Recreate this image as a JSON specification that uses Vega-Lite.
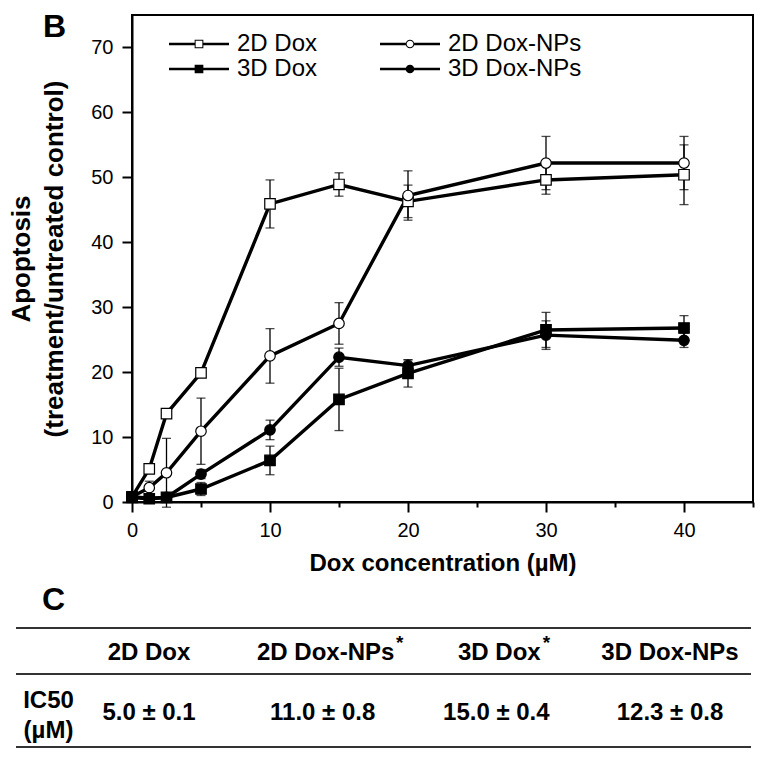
{
  "$schema": "https://vega.github.io/schema/vega-lite/v6.json",
  "background": "white",
  "padding": {"left": 7, "top": 10, "right": 5, "bottom": 5},
  "spacing": 8,
  "config": {
    "font": "Liberation Sans",
    "view": {"stroke": null},
    "axis": {"labelFont": "Liberation Sans", "titleFont": "Liberation Sans", "labelColor": "black", "titleColor": "black", "domainColor": "black", "tickColor": "black", "grid": false},
    "legend": {"labelFont": "Liberation Sans"},
    "title": {"font": "Liberation Sans", "color": "black"}
  },
  "vconcat": [
    {
      "width": 621,
      "height": 487,
      "view": {"stroke": "black", "strokeWidth": 2},
      "title": {"text": "B", "anchor": "start", "frame": "group", "fontSize": 32, "fontWeight": "bold", "dx": -89, "dy": 29, "offset": 0},
      "data": {"values": [
        {"series": "2D Dox", "conc": 0, "mean": 0.8, "err": 0.3},
        {"series": "2D Dox", "conc": 1.25, "mean": 5.1, "err": 0.6},
        {"series": "2D Dox", "conc": 2.5, "mean": 13.6, "err": 0.5},
        {"series": "2D Dox", "conc": 5, "mean": 19.9, "err": 0.4},
        {"series": "2D Dox", "conc": 10, "mean": 45.9, "err": 3.7},
        {"series": "2D Dox", "conc": 15, "mean": 48.9, "err": 1.8},
        {"series": "2D Dox", "conc": 20, "mean": 46.3, "err": 2.5},
        {"series": "2D Dox", "conc": 30, "mean": 49.6, "err": 2.2},
        {"series": "2D Dox", "conc": 40, "mean": 50.4, "err": 4.6},
        {"series": "2D Dox-NPs", "conc": 0, "mean": 0.8, "err": 0.3},
        {"series": "2D Dox-NPs", "conc": 1.25, "mean": 2.2, "err": 1.0},
        {"series": "2D Dox-NPs", "conc": 2.5, "mean": 4.5, "err": 5.3},
        {"series": "2D Dox-NPs", "conc": 5, "mean": 10.9, "err": 5.1},
        {"series": "2D Dox-NPs", "conc": 10, "mean": 22.5, "err": 4.2},
        {"series": "2D Dox-NPs", "conc": 15, "mean": 27.5, "err": 3.2},
        {"series": "2D Dox-NPs", "conc": 20, "mean": 47.2, "err": 3.8},
        {"series": "2D Dox-NPs", "conc": 30, "mean": 52.2, "err": 4.1},
        {"series": "2D Dox-NPs", "conc": 40, "mean": 52.2, "err": 4.1},
        {"series": "3D Dox", "conc": 0, "mean": 0.7, "err": 0.3},
        {"series": "3D Dox", "conc": 1.25, "mean": 0.5, "err": 0.3},
        {"series": "3D Dox", "conc": 2.5, "mean": 0.7, "err": 0.4},
        {"series": "3D Dox", "conc": 5, "mean": 2.0, "err": 1.0},
        {"series": "3D Dox", "conc": 10, "mean": 6.4, "err": 2.2},
        {"series": "3D Dox", "conc": 15, "mean": 15.8, "err": 4.8},
        {"series": "3D Dox", "conc": 20, "mean": 19.8, "err": 2.1},
        {"series": "3D Dox", "conc": 30, "mean": 26.5, "err": 2.7},
        {"series": "3D Dox", "conc": 40, "mean": 26.8, "err": 1.9},
        {"series": "3D Dox-NPs", "conc": 0, "mean": 0.8, "err": 0.3},
        {"series": "3D Dox-NPs", "conc": 1.25, "mean": 0.6, "err": 0.3},
        {"series": "3D Dox-NPs", "conc": 2.5, "mean": 0.7, "err": 0.4},
        {"series": "3D Dox-NPs", "conc": 5, "mean": 4.3, "err": 0.7},
        {"series": "3D Dox-NPs", "conc": 10, "mean": 11.1, "err": 1.5},
        {"series": "3D Dox-NPs", "conc": 15, "mean": 22.3, "err": 1.4},
        {"series": "3D Dox-NPs", "conc": 20, "mean": 21.0, "err": 0.9},
        {"series": "3D Dox-NPs", "conc": 30, "mean": 25.7, "err": 2.2},
        {"series": "3D Dox-NPs", "conc": 40, "mean": 24.9, "err": 1.1}
      ]},
      "layer": [
        {
          "mark": {"type": "errorbar", "ticks": {"size": 9, "thickness": 1.3, "color": "black"}, "rule": {"strokeWidth": 1.3, "color": "black"}},
          "encoding": {
            "x": {"field": "conc", "type": "quantitative", "title": "Dox concentration (µM)"},
            "y": {"field": "mean", "type": "quantitative", "title": ["Apoptosis", "(treatment/untreated control)"]},
            "yError": {"field": "err"},
            "detail": {"field": "series"}
          }
        },
        {
          "mark": {"type": "line", "color": "black", "strokeWidth": 3.4},
          "encoding": {
            "x": {"field": "conc", "type": "quantitative", "scale": {"domain": [0, 45], "nice": false, "zero": false},
              "axis": {"values": [0, 5, 10, 15, 20, 25, 30, 35, 40, 45], "labelExpr": "datum.value % 10 === 0 ? datum.label : ''",
                "title": "Dox concentration (µM)", "titleFontSize": 24, "titleFontWeight": "bold", "titlePadding": 11,
                "tickSize": {"condition": {"test": "datum.value % 10 === 0", "value": 10}, "value": 5},
                "tickWidth": 2, "domainWidth": 2, "labelFontSize": 20, "labelPadding": 8, "labelFlush": false, "labelOverlap": false}},
            "y": {"field": "mean", "type": "quantitative", "scale": {"domain": [0, 75], "nice": false, "zero": false},
              "axis": {"values": [0, 5, 10, 15, 20, 25, 30, 35, 40, 45, 50, 55, 60, 65, 70], "labelExpr": "datum.value % 10 === 0 ? datum.label : ''",
                "title": ["Apoptosis", "(treatment/untreated control)"], "titleFontSize": 26, "titleFontWeight": "bold", "titleLineHeight": 33, "titlePadding": 23,
                "tickSize": {"condition": {"test": "datum.value % 10 === 0", "value": 10}, "value": 6},
                "tickWidth": 2, "domainWidth": 2, "labelFontSize": 20, "labelPadding": 9, "labelOverlap": false}},
            "detail": {"field": "series"}
          }
        },
        {
          "mark": {"type": "point", "filled": true, "size": 110, "stroke": "black", "strokeWidth": 1.2, "opacity": 1},
          "encoding": {
            "x": {"field": "conc", "type": "quantitative"},
            "y": {"field": "mean", "type": "quantitative"},
            "shape": {"field": "series", "type": "nominal", "scale": {"domain": ["2D Dox", "2D Dox-NPs", "3D Dox", "3D Dox-NPs"], "range": ["square", "circle", "square", "circle"]}, "legend": null},
            "fill": {"field": "series", "type": "nominal", "scale": {"domain": ["2D Dox", "2D Dox-NPs", "3D Dox", "3D Dox-NPs"], "range": ["white", "white", "black", "black"]}, "legend": null}
          }
        },
        {
          "transform": [{"filter": "false"}],
          "mark": {"type": "point", "filled": true, "color": "black", "opacity": 1},
          "encoding": {
            "x": {"field": "conc", "type": "quantitative"},
            "y": {"field": "mean", "type": "quantitative"},
            "shape": {"field": "series", "type": "nominal",
              "scale": {"domain": ["2D Dox", "3D Dox", "2D Dox-NPs", "3D Dox-NPs"],
                "range": [
                  "M-3,-0.13L-0.435,-0.13L-0.435,0.13L-3,0.13ZM0.435,-0.13L3,-0.13L3,0.13L0.435,0.13ZM-0.435,-0.435L0.435,-0.435L0.435,0.435L-0.435,0.435ZM-0.335,-0.335L-0.335,0.335L0.335,0.335L0.335,-0.335Z",
                  "M-3,-0.13L3,-0.13L3,0.13L-3,0.13ZM-0.435,-0.435L0.435,-0.435L0.435,0.435L-0.435,0.435Z",
                  "M-3,-0.13L-0.425,-0.13L-0.425,0.13L-3,0.13ZM0.425,-0.13L3,-0.13L3,0.13L0.425,0.13ZM-0.435,0A0.435,0.435,0,1,1,0.435,0A0.435,0.435,0,1,1,-0.435,0ZM-0.335,0A0.335,0.335,0,1,0,0.335,0A0.335,0.335,0,1,0,-0.335,0Z",
                  "M-3,-0.13L3,-0.13L3,0.13L-3,0.13ZM-0.435,0A0.435,0.435,0,1,1,0.435,0A0.435,0.435,0,1,1,-0.435,0Z"
                ]},
              "legend": {"orient": "none", "legendX": 55, "legendY": 17, "columns": 2, "title": null, "labelFontSize": 24, "labelColor": "black", "symbolSize": 400, "symbolStrokeWidth": 0, "symbolFillColor": "black", "symbolOpacity": 1, "labelOffset": 26, "columnPadding": 62, "rowPadding": 1}}
          }
        }
      ],
      "resolve": {"scale": {"shape": "independent", "fill": "independent"}, "legend": {"shape": "independent", "fill": "independent"}}
    },
    {
      "width": 621,
      "height": 119,
      "view": {"stroke": null},
      "title": {"text": "C", "anchor": "start", "frame": "group", "fontSize": 32, "fontWeight": "bold", "dx": -90, "offset": -2},
      "data": {"values": [
        {"row": "header", "col": "2D Dox", "label": "2D Dox", "star": false},
        {"row": "header", "col": "2D Dox-NPs", "label": "2D Dox-NPs", "star": true},
        {"row": "header", "col": "3D Dox", "label": "3D Dox", "star": true},
        {"row": "header", "col": "3D Dox-NPs", "label": "3D Dox-NPs", "star": false},
        {"row": "value", "col": "2D Dox", "label": "5.0 ± 0.1", "star": false},
        {"row": "value", "col": "2D Dox-NPs", "label": "11.0 ± 0.8", "star": false},
        {"row": "value", "col": "3D Dox", "label": "15.0 ± 0.4", "star": false},
        {"row": "value", "col": "3D Dox-NPs", "label": "12.3 ± 0.8", "star": false}
      ]},
      "layer": [
        {
          "transform": [{"filter": "datum.row === 'header' && datum.col === '2D Dox'"}],
          "mark": {"type": "rule", "color": "#333333", "strokeWidth": 1.8},
          "encoding": {
            "x": {"datum": 0, "type": "quantitative", "scale": {"domain": [0, 1], "range": [-116, 619]}, "axis": null},
            "x2": {"datum": 1},
            "y": {"field": "row", "type": "nominal", "bandPosition": 0}
          }
        },
        {
          "transform": [{"filter": "datum.col === '2D Dox'"}],
          "mark": {"type": "rule", "color": "#333333", "strokeWidth": 1.8},
          "encoding": {
            "x": {"datum": 0, "type": "quantitative", "scale": {"domain": [0, 1], "range": [-116, 619]}, "axis": null},
            "x2": {"datum": 1},
            "y": {"field": "row", "type": "nominal", "bandPosition": 1}
          }
        },
        {
          "transform": [{"filter": "datum.row === 'header' && !datum.star"}],
          "mark": {"type": "text", "fontSize": 24, "fontWeight": "bold", "color": "black", "dy": 2},
          "encoding": {
            "x": {"field": "col", "type": "nominal", "scale": {"type": "point", "domain": ["2D Dox", "2D Dox-NPs", "3D Dox", "3D Dox-NPs"], "range": [17, 538], "padding": 0}, "axis": null},
            "y": {"field": "row", "type": "nominal", "scale": {"type": "band", "domain": ["header", "value"], "paddingInner": 0.37, "paddingOuter": 0},
              "axis": {"title": null, "domain": false, "ticks": false, "tickSize": 0, "labelExpr": "datum.value === 'value' ? ['IC50', '(µM)'] : ''", "labelAlign": "center", "labelPadding": 84, "labelFontSize": 24, "labelFontWeight": "bold", "labelLineHeight": 30, "labelOffset": -23}},
            "text": {"field": "label"}
          }
        },
        {
          "transform": [{"filter": "datum.row === 'header' && datum.star"}],
          "mark": {"type": "text", "fontSize": 24, "fontWeight": "bold", "color": "black", "dy": 2, "dx": 3},
          "encoding": {
            "x": {"field": "col", "type": "nominal", "scale": {"type": "point", "domain": ["2D Dox", "2D Dox-NPs", "3D Dox", "3D Dox-NPs"], "range": [17, 538], "padding": 0}, "axis": null},
            "y": {"field": "row", "type": "nominal"},
            "text": {"field": "label"}
          }
        },
        {
          "transform": [{"filter": "datum.row === 'header' && datum.col === '2D Dox-NPs'"}],
          "mark": {"type": "text", "fontSize": 19, "fontWeight": "bold", "color": "black", "dy": -8, "dx": 77, "text": "*"},
          "encoding": {
            "x": {"field": "col", "type": "nominal", "scale": {"type": "point", "domain": ["2D Dox", "2D Dox-NPs", "3D Dox", "3D Dox-NPs"], "range": [17, 538], "padding": 0}, "axis": null},
            "y": {"field": "row", "type": "nominal"}
          }
        },
        {
          "transform": [{"filter": "datum.row === 'header' && datum.col === '3D Dox'"}],
          "mark": {"type": "text", "fontSize": 19, "fontWeight": "bold", "color": "black", "dy": -8, "dx": 50, "text": "*"},
          "encoding": {
            "x": {"field": "col", "type": "nominal", "scale": {"type": "point", "domain": ["2D Dox", "2D Dox-NPs", "3D Dox", "3D Dox-NPs"], "range": [17, 538], "padding": 0}, "axis": null},
            "y": {"field": "row", "type": "nominal"}
          }
        },
        {
          "transform": [{"filter": "datum.row === 'value'"}],
          "mark": {"type": "text", "fontSize": 24, "fontWeight": "bold", "color": "black", "dy": -11},
          "encoding": {
            "x": {"field": "col", "type": "nominal", "scale": {"type": "point", "domain": ["2D Dox", "2D Dox-NPs", "3D Dox", "3D Dox-NPs"], "range": [17, 538], "padding": 0}, "axis": null},
            "y": {"field": "row", "type": "nominal"},
            "text": {"field": "label"}
          }
        }
      ],
      "resolve": {"scale": {"x": "independent"}}
    }
  ]
}
